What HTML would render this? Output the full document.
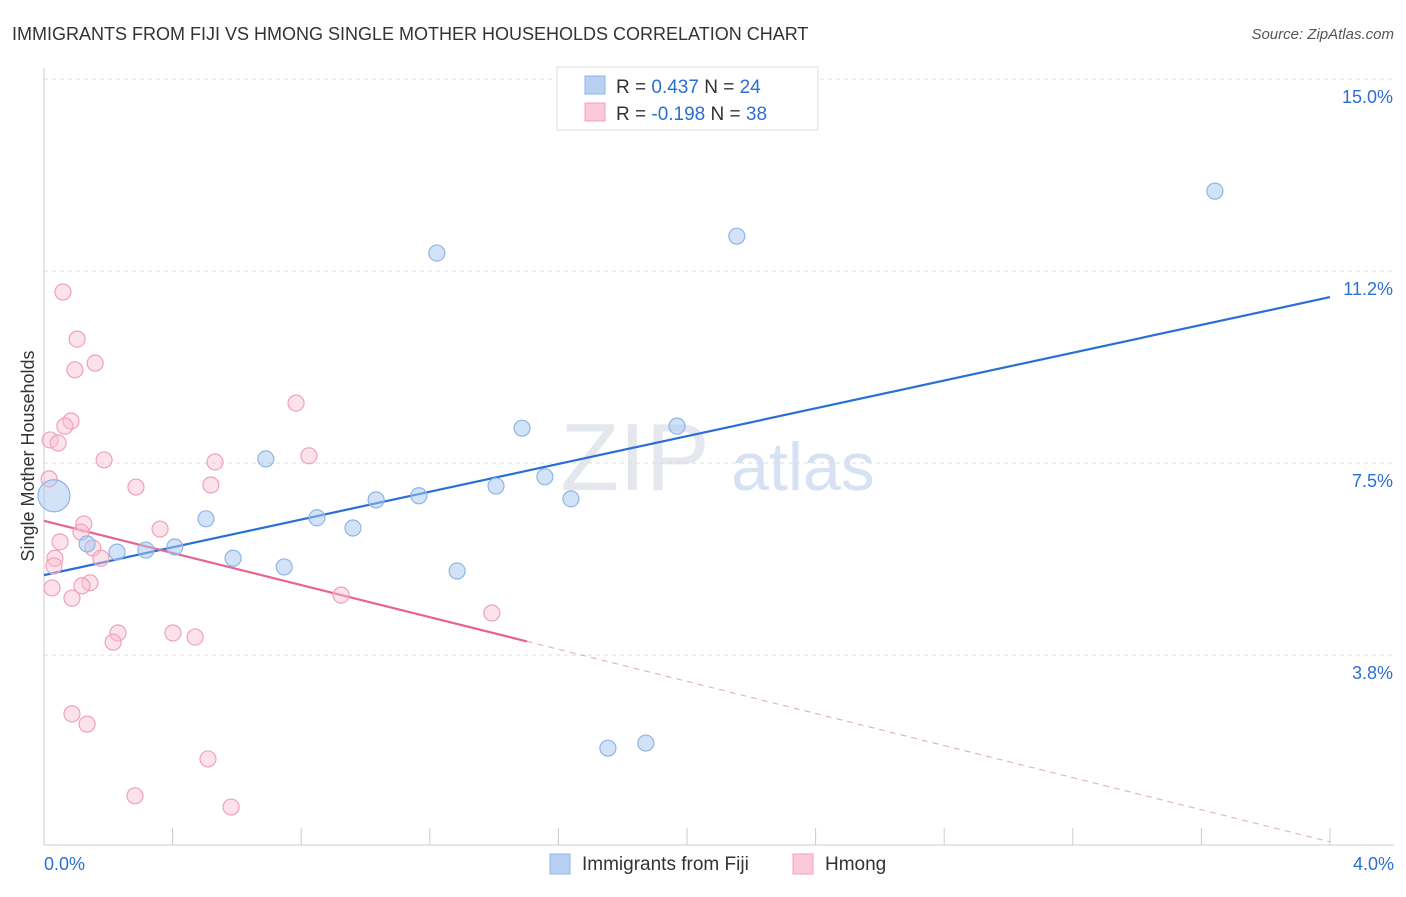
<!DOCTYPE html>
<html><head><meta charset="utf-8"><style>
body{margin:0;background:#fff;font-family:"Liberation Sans",sans-serif;}
svg text{font-family:"Liberation Sans",sans-serif;}
</style></head><body>
<svg id="c" width="1406" height="892">
<text x="12" y="40" font-size="18" fill="#333">IMMIGRANTS FROM FIJI VS HMONG SINGLE MOTHER HOUSEHOLDS CORRELATION CHART</text>
<text x="1394" y="39" font-size="15" fill="#555" font-style="italic" text-anchor="end">Source: ZipAtlas.com</text>
<text x="635" y="490" font-size="96" fill="#e4e8ee" font-family="Liberation Serif" text-anchor="middle">ZIP</text>
<text x="803" y="490" font-size="68" fill="#d6e2f4" text-anchor="middle">atlas</text>
<text x="34" y="456" font-size="18" fill="#333" text-anchor="middle" transform="rotate(-90 34 456)">Single Mother Households</text>
<g id="grid"></g><g id="lines"></g><g id="pts"></g>
<g>
<rect x="557" y="67" width="261" height="63" fill="#fff" stroke="#ddd"/>
<rect x="585" y="76" width="20" height="18" fill="#b8d1f3" stroke="#8fb5e6"/>
<rect x="585" y="103" width="20" height="18" fill="#fbc9d8" stroke="#f0a0bc"/>
<text x="616" y="93" font-size="19" fill="#333">R = <tspan fill="#2a6fd6"> 0.437</tspan>   N = <tspan fill="#2a6fd6">24</tspan></text>
<text x="616" y="120" font-size="19" fill="#333">R = <tspan fill="#2a6fd6">-0.198</tspan>   N = <tspan fill="#2a6fd6">38</tspan></text>
</g>
<g>
<rect x="550" y="854" width="20" height="20" fill="#b8d1f3" stroke="#8fb5e6"/>
<text x="582" y="870" font-size="19" fill="#333">Immigrants from Fiji</text>
<rect x="793" y="854" width="20" height="20" fill="#fbc9d8" stroke="#f0a0bc"/>
<text x="825" y="870" font-size="19" fill="#333">Hmong</text>
</g>
</svg>
<script>
const xTicks=[0,0.4,0.8,1.2,1.6,2.0,2.4,2.8,3.2,3.6,4.0];
const yTicks=[15,11.25,7.5,3.75];
const yTickLabels=["15.0%","11.2%","7.5%","3.8%"];
const fijiX=[0.031,0.134,0.227,0.317,0.407,0.504,0.588,0.690,0.747,0.849,0.961,1.033,1.166,1.222,1.285,1.406,1.487,1.558,1.639,1.754,1.872,1.969,2.155,3.642];
const fijiY=[6.86,5.92,5.76,5.80,5.86,6.41,5.64,7.58,5.47,6.43,6.23,6.78,6.86,11.60,5.39,7.05,8.18,7.23,6.80,1.93,2.03,8.22,11.93,12.81];
const hmX=[0.059,0.103,0.159,0.096,0.084,0.065,0.019,0.044,0.187,0.016,0.286,0.532,0.519,0.784,0.824,0.361,0.124,0.115,0.050,0.034,0.031,0.152,0.177,0.143,0.118,0.025,0.087,0.924,1.393,0.230,0.215,0.401,0.470,0.087,0.134,0.510,0.283,0.582];
const hmY=[10.84,9.92,9.45,9.32,8.32,8.22,7.95,7.89,7.56,7.19,7.03,7.52,7.07,8.67,7.64,6.21,6.31,6.15,5.96,5.64,5.49,5.84,5.64,5.16,5.10,5.06,4.86,4.92,4.57,4.18,4.00,4.18,4.10,2.60,2.40,1.72,1.00,0.78];
const fijiTrend=[5.31,10.74];
const hmTrend=[6.37,0.1];
const hmSolidEnd=1.502;
const X=v=>44+v/4*1286, Y=v=>79+(15-v)*51.2;
const NS="http://www.w3.org/2000/svg";
function mk(t,a,p){const e=document.createElementNS(NS,t);for(const k in a)e.setAttribute(k,a[k]);p.appendChild(e);return e;}
const g=document.getElementById('grid');
const ax=mk('line',{x1:44,y1:845,x2:1394,y2:845,stroke:'#ccc'},g);


const ay=mk('line',{x1:44,y1:68,x2:44,y2:845,stroke:'#ccc'},g);


yTicks.forEach((v,i)=>{
 const l=mk('line',{x1:44,y1:Y(v),x2:1394,y2:Y(v),stroke:'#ddd','stroke-dasharray':'4,4'},g);
 
 
 const t=mk('text',{x:1393,y:Y(v)+24,'font-size':18,fill:'#2a6fd6','text-anchor':'end'},g);
 t.textContent=yTickLabels[i];
 
 
});
xTicks.forEach((v,i)=>{
 if(i>0){const l=mk('line',{x1:X(v),y1:828,x2:X(v),y2:845,stroke:'#ccc'},g);
 
 }
});
[[0,"0.0%",'start',44],[4,"4.0%",'end',1394]].forEach(a=>{
 const t=mk('text',{x:a[3],y:870,'font-size':18,fill:'#2a6fd6','text-anchor':a[2]},g);
 t.textContent=a[1];
 
 
});
const L=document.getElementById('lines');
const bl=mk('line',{x1:X(0),y1:Y(fijiTrend[0]),x2:X(4),y2:Y(fijiTrend[1]),stroke:'#2a6fd6','stroke-width':2.2},L);


const hy=x=>hmTrend[0]+(hmTrend[1]-hmTrend[0])*x/4;
const pl=mk('line',{x1:X(0),y1:Y(hmTrend[0]),x2:X(hmSolidEnd),y2:Y(hy(hmSolidEnd)),stroke:'#e8638f','stroke-width':2.2},L);


const pd=mk('line',{x1:X(hmSolidEnd),y1:Y(hy(hmSolidEnd)),x2:X(4),y2:Y(hmTrend[1]),stroke:'#eea0b8','stroke-width':1,'stroke-dasharray':'6,5'},L);


const P=document.getElementById('pts');
hmX.forEach((x,i)=>{
 const c=mk('circle',{cx:X(x),cy:Y(hmY[i]),r:8,fill:'rgba(248,190,210,0.45)',stroke:'#f0a0bc','stroke-width':1.2},P);
 
 
});
fijiX.forEach((x,i)=>{
 const c=mk('circle',{cx:X(x),cy:Y(fijiY[i]),r:i==0?16:8,fill:'rgba(165,200,240,0.5)',stroke:'#8fb5e6','stroke-width':1.2},P);
 
 
});
</script>
</body></html>
